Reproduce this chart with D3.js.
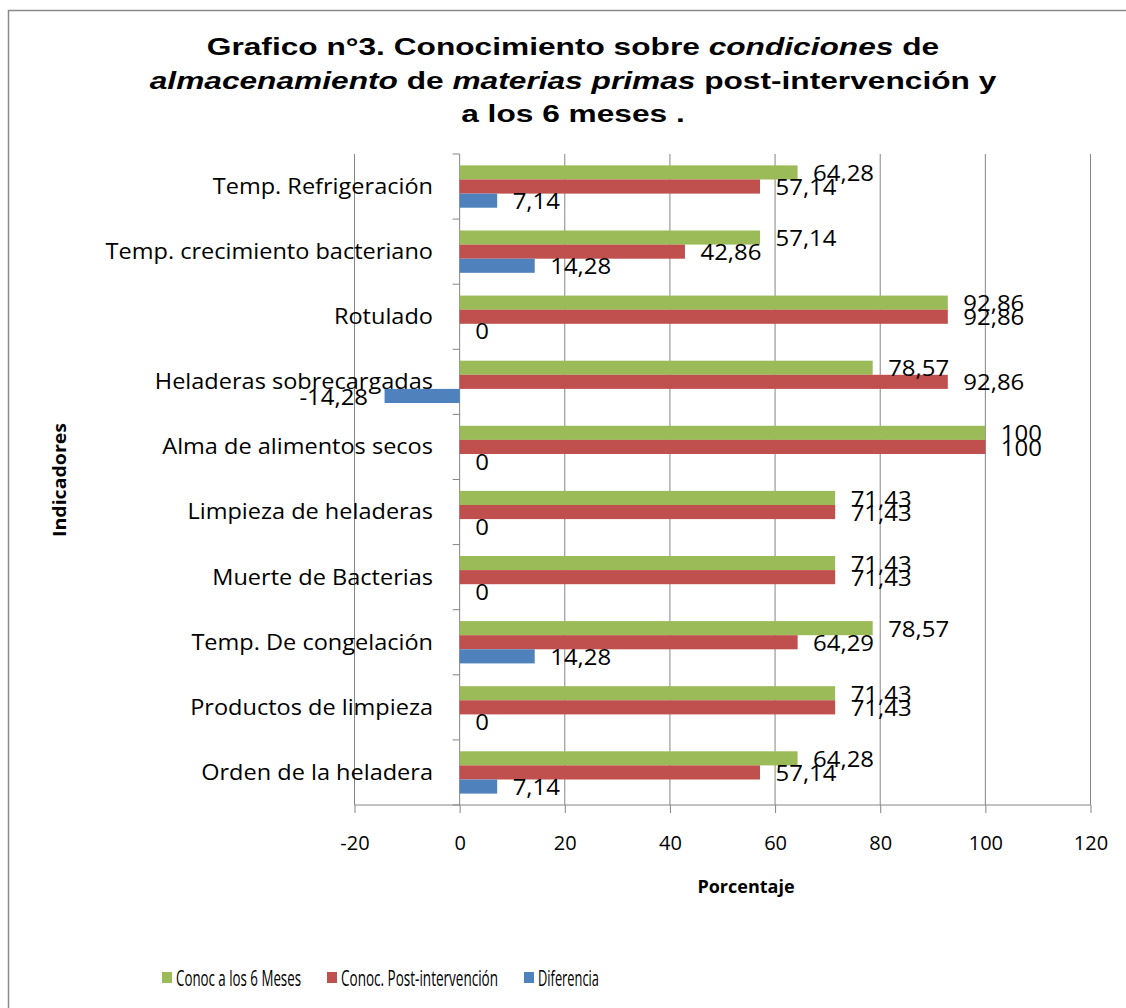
<!DOCTYPE html>
<html>
<head>
<meta charset="utf-8">
<script src="https://cdn.jsdelivr.net/npm/d3@7"></script>
<style>
  body { margin: 0; background: #fff; }
  svg { display: block; }
  .cat { font-family: "Open Sans", sans-serif; font-size: 21px; fill: #000; }
  .val { font-family: "Open Sans", sans-serif; font-size: 21px; fill: #000; }
  .tick-label { font-family: "Open Sans", sans-serif; font-size: 20px; fill: #000; }
</style>
</head>
<body>
<div id="chart"></div>
<script>
// categorias (de arriba hacia abajo)
const categories = [
  "Temp. Refrigeración",
  "Temp. crecimiento bacteriano",
  "Rotulado",
  "Heladeras sobrecargadas",
  "Alma de alimentos secos",
  "Limpieza de heladeras",
  "Muerte de Bacterias",
  "Temp. De congelación",
  "Productos de limpieza",
  "Orden de la heladera"
];

const seriesNames = ["Conoc a los 6 Meses", "Conoc. Post-intervención", "Diferencia"];
const seriesColors = ["#9BBB59", "#C0504D", "#4F81BD"];

const seisMeses = [64.28, 57.14, 92.86, 78.57, 100, 71.43, 71.43, 78.57, 71.43, 64.28];
const postIntervencion = [57.14, 42.86, 92.86, 92.86, 100, 71.43, 71.43, 64.29, 71.43, 57.14];
const diferencia = [7.14, 14.28, 0, -14.28, 0, 0, 0, 14.28, 0, 7.14];

const xTicks = [-20, 0, 20, 40, 60, 80, 100, 120];

const width = 1126, height = 1008;

// ensancha el texto (la imagen original tiene letras mas anchas)
function stretch(sel, k) {
  sel.each(function () {
    const w = this.getComputedTextLength();
    d3.select(this).attr("textLength", w * k).attr("lengthAdjust", "spacingAndGlyphs");
  });
}

const svg = d3.select("#chart").append("svg")
  .attr("width", width)
  .attr("height", height);

// marco
svg.append("rect")
  .attr("x", 8.5).attr("y", 10.5)
  .attr("width", 1130).attr("height", 1010)
  .attr("fill", "none")
  .attr("stroke", "#8a8a8a")
  .attr("stroke-width", 1.5);

// titulo
const titleLines = [
  [["Grafico n°3. Conocimiento sobre ", false], ["condiciones", true], [" de", false]],
  [["almacenamiento", true], [" de ", false], ["materias primas", true], [" post-intervención y", false]],
  [["a los 6 meses .", false]]
];
titleLines.forEach((line, i) => {
  const t = svg.append("text")
    .attr("text-anchor", "middle")
    .attr("transform", `translate(573,${55 + i * 33.5}) scale(1.32,1)`)
    .style("font-family", "'Liberation Sans', Arial, sans-serif")
    .style("font-size", "24px")
    .style("font-weight", "bold");
  line.forEach(([txt, it]) => {
    t.append("tspan").text(txt).style("font-style", it ? "italic" : "normal");
  });
});

// escalas
const x = d3.scaleLinear().domain([-20, 120]).range([354, 1090]);

const y = d3.scaleBand()
  .domain(categories)
  .range([154, 805])
  .paddingInner(0.35)
  .paddingOuter(0.175);

const ySub = d3.scaleBand()
  .domain(d3.range(3))
  .range([0, y.bandwidth()]);

const step = y.step();
const yTop = 154, yBottom = 805;

// lineas de cuadricula
svg.append("g")
  .selectAll("line")
  .data(xTicks.filter((d) => d !== 0))
  .join("line")
  .attr("x1", (d) => x(d) + 0.5)
  .attr("x2", (d) => x(d) + 0.5)
  .attr("y1", yTop)
  .attr("y2", yBottom)
  .attr("stroke", "#868686")
  .attr("stroke-width", 1);

// eje x
const xAxis = d3.axisBottom(x).tickValues(xTicks).tickSize(8).tickFormat((d) => String(d));
const xAxisGroup = svg.append("g")
  .attr("transform", `translate(0.5,${yBottom})`)
  .call(xAxis);
xAxisGroup.select(".domain")
  .attr("d", `M${x(-20)},0H${x(120)}`)
  .attr("stroke", "#868686");
xAxisGroup.selectAll(".tick line").attr("stroke", "#868686");
xAxisGroup.selectAll(".tick text")
  .attr("class", "tick-label")
  .attr("y", 38)
  .attr("dy", "0.35em");

svg.append("text")
  .attr("x", 746)
  .attr("y", 893)
  .attr("text-anchor", "middle")
  .style("font-family", "'Open Sans', sans-serif")
  .style("font-size", "18px")
  .style("font-weight", "bold")
  .text("Porcentaje");

svg.append("text")
  .attr("transform", "translate(66,480) rotate(-90)")
  .attr("text-anchor", "middle")
  .style("font-family", "'Open Sans', sans-serif")
  .style("font-size", "18px")
  .style("font-weight", "bold")
  .attr("textLength", 114)
  .attr("lengthAdjust", "spacingAndGlyphs")
  .text("Indicadores");

// eje y en x=0
const x0 = x(0) + 0.5;
svg.append("line")
  .attr("x1", x0).attr("x2", x0)
  .attr("y1", yTop).attr("y2", yBottom)
  .attr("stroke", "#868686");

svg.append("g")
  .selectAll("line")
  .data(d3.range(categories.length + 1))
  .join("line")
  .attr("x1", x0 - 7).attr("x2", x0)
  .attr("y1", (i) => yTop + i * step)
  .attr("y2", (i) => yTop + i * step)
  .attr("stroke", "#868686");

// etiquetas de categorias
svg.append("g")
  .selectAll("text")
  .data(categories)
  .join("text")
  .attr("class", "cat")
  .attr("x", 433)
  .attr("y", (d) => y(d) + y.bandwidth() / 2)
  .attr("dy", "0.35em")
  .attr("text-anchor", "end")
  .text((d) => d)
  .call(stretch, 1.12);

// barras
const allSeries = [seisMeses, postIntervencion, diferencia];
const rows = [];
categories.forEach((c, i) => {
  allSeries.forEach((s, k) => rows.push({ cat: c, k: k, v: s[i] }));
});

svg.append("g")
  .selectAll("rect")
  .data(rows)
  .join("rect")
  .attr("x", (d) => x(Math.min(0, d.v)) + 0.5)
  .attr("y", (d) => y(d.cat) + ySub(d.k))
  .attr("width", (d) => Math.abs(x(d.v) - x(0)))
  .attr("height", ySub.bandwidth())
  .attr("fill", (d) => seriesColors[d.k]);

// etiquetas de datos
const fmt = (v) => String(v).replace(".", ",");
svg.append("g")
  .selectAll("text")
  .data(rows)
  .join("text")
  .attr("class", "val")
  .attr("x", (d) => (d.v < 0 ? x(d.v) - 16 : x(d.v) + 16))
  .attr("y", (d) => y(d.cat) + ySub(d.k) + ySub.bandwidth() / 2 + 1)
  .attr("dy", "0.36em")
  .attr("text-anchor", (d) => (d.v < 0 ? "end" : "start"))
  .text((d) => fmt(d.v))
  .call(stretch, 1.14);

// leyenda
const legendItems = [
  { x: 162, w: 125 },
  { x: 327, w: 157 },
  { x: 524, w: 61 }
];
const legend = svg.append("g")
  .selectAll("g")
  .data(seriesNames)
  .join("g")
  .attr("transform", (d, i) => `translate(${legendItems[i].x},978)`);
legend.append("rect")
  .attr("x", 0).attr("y", -6)
  .attr("width", 10).attr("height", 11)
  .attr("fill", (d, i) => seriesColors[i]);
legend.append("text")
  .attr("x", 14)
  .attr("dy", "0.35em")
  .style("font-family", "'Open Sans', sans-serif")
  .style("font-size", "22px")
  .attr("textLength", (d, i) => legendItems[i].w)
  .attr("lengthAdjust", "spacingAndGlyphs")
  .text((d) => d);
</script>
</body>
</html>
